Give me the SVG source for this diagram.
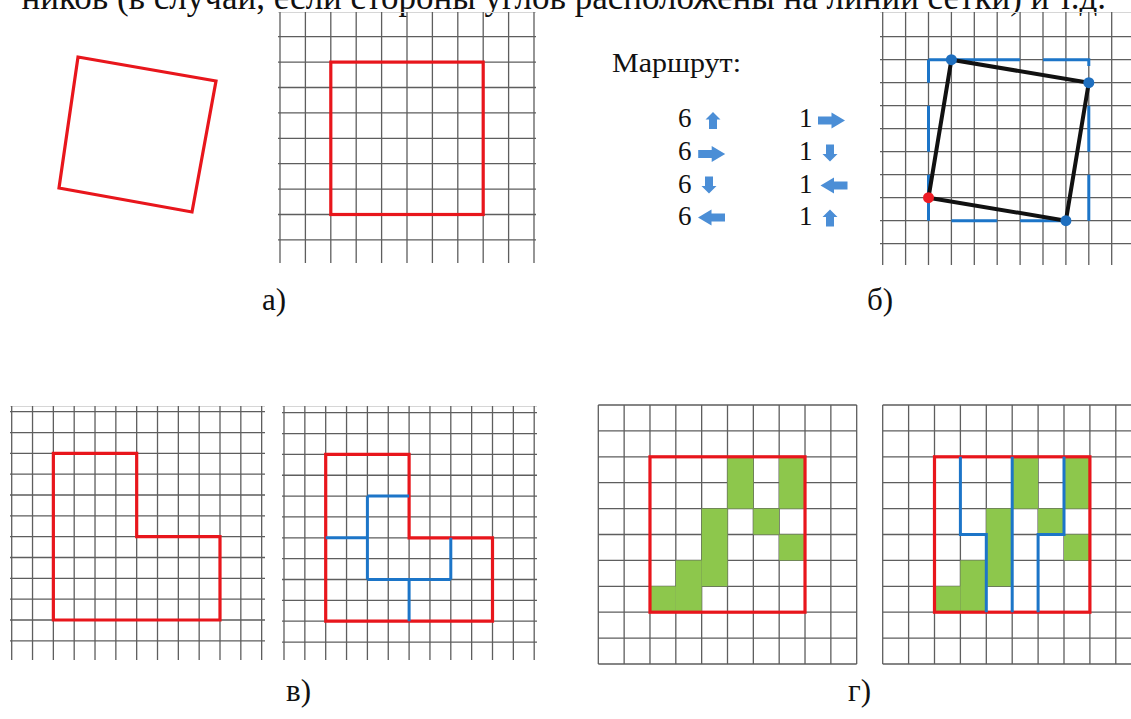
<svg xmlns="http://www.w3.org/2000/svg" xmlns:xlink="http://www.w3.org/1999/xlink" width="1131" height="719" viewBox="0 0 1131 719">
<style>
.grid{fill:none;stroke:#5e5e5e;stroke-width:1.3}
.faint{fill:none;stroke:#d6d6d6;stroke-width:1}
.red{fill:none;stroke:#e8161c;stroke-width:3.2;stroke-linejoin:miter}
.blue{fill:none;stroke:#1c75c8;stroke-width:3}
.green{fill:#8dc74c}
.lbl{font-family:"Liberation Serif","Times New Roman",serif;font-size:31px;fill:#111}
.txt{font-family:"Liberation Serif","Times New Roman",serif;fill:#111}
.arr{fill:#4b8ed6}
</style>
<defs>
<path id="ar" d="M-13.5,-4 H0 V-8 L13.5,0 L0,8 V4 H-13.5 Z"/>
<path id="au" d="M-4,8.5 V-1 H-7.5 L0,-8.5 L7.5,-1 H4 V8.5 Z"/>
</defs>
<rect width="1131" height="719" fill="#fff"/>

<text class="txt" x="1106" y="9" font-size="35" text-anchor="end">ников (в случаи, если стороны углов расположены на линии сетки) и т.д.</text>

<g id="panel-a-tilted">
<path class="red" d="M78 57 L216 81 L192 212 L59 188 Z"/>
</g>

<g id="panel-a-grid">
<path class="faint" d="M278 12.5H536"/>
<path class="grid" d="M280 12V263M305.4 12V263M330.8 12V263M356.2 12V263M381.6 12V263M407 12V263M432.4 12V263M457.8 12V263M483.2 12V263M508.6 12V263M534 12V263
M278 36.7H536M278 62.1H536M278 87.5H536M278 112.9H536M278 138.3H536M278 163.7H536M278 189.1H536M278 214.5H536M278 239.9H536"/>
<rect class="red" x="330.8" y="62.1" width="152.4" height="152.4"/>
</g>
<text id="label-a" class="lbl" x="262" y="310">а)</text>

<g id="panel-b-route">
<text class="txt" x="612" y="72" font-size="28" textLength="129" lengthAdjust="spacingAndGlyphs">Маршрут:</text>
<text class="txt" x="678" y="127" font-size="27">6</text>
<text class="txt" x="678" y="160" font-size="27">6</text>
<text class="txt" x="678" y="192.7" font-size="27">6</text>
<text class="txt" x="678" y="225" font-size="27">6</text>
<text class="txt" x="799" y="127" font-size="27">1</text>
<text class="txt" x="799" y="160" font-size="27">1</text>
<text class="txt" x="799" y="192.7" font-size="27">1</text>
<text class="txt" x="799" y="225" font-size="27">1</text>
<use class="arr" xlink:href="#au" href="#au" transform="translate(713,120.5)"/>
<use class="arr" xlink:href="#ar" href="#ar" transform="translate(711.7,154)"/>
<use class="arr" xlink:href="#au" href="#au" transform="translate(709,185) rotate(180)"/>
<use class="arr" xlink:href="#ar" href="#ar" transform="translate(711.5,217.5) rotate(180)"/>
<use class="arr" xlink:href="#ar" href="#ar" transform="translate(831.5,120.5)"/>
<use class="arr" xlink:href="#au" href="#au" transform="translate(830,153) rotate(180)"/>
<use class="arr" xlink:href="#ar" href="#ar" transform="translate(834,185.5) rotate(180)"/>
<use class="arr" xlink:href="#au" href="#au" transform="translate(830,218)"/>
</g>

<g id="panel-b-grid">
<path class="faint" d="M880 12.5H1131"/>
<path class="grid" d="M882.7 12V265M905.6 12V265M928.5 12V265M951.4 12V265M974.3 12V265M997.2 12V265M1020.1 12V265M1043 12V265M1065.9 12V265M1088.8 12V265M1111.7 12V265
M880 36.7H1131M880 59.7H1131M880 82.7H1131M880 105.7H1131M880 128.7H1131M880 151.7H1131M880 174.7H1131M880 197.7H1131M880 220.7H1131M880 243.7H1131"/>
<path class="blue" d="M928.5 59.7H1020.1M1043 59.7H1088.8V66M1088.8 105.7V151.7M1088.8 174.7V220.7M1065.9 220.7H1020.1M997.2 220.7H951.4M928.5 220.7V174.7M928.5 151.7V105.7M928.5 82.7V59.7"/>
<path d="M951.4 59.7 L1088.8 82.7 L1065.9 220.7 L928.5 197.7 Z" fill="none" stroke="#111" stroke-width="4" stroke-linejoin="round"/>
<circle cx="951.4" cy="59.7" r="5.5" fill="#1f6fbf"/>
<circle cx="1088.8" cy="82.7" r="5.5" fill="#1f6fbf"/>
<circle cx="1065.9" cy="220.7" r="5.5" fill="#1f6fbf"/>
<circle cx="928.5" cy="197.7" r="5.5" fill="#ee1c25"/>
</g>
<text id="label-b" class="lbl" x="867" y="310">б)</text>

<g id="panel-v-left">
<path class="faint" d="M10 406.5H265"/>
<path class="grid" d="M11.7 406V660M32.53 406V660M53.36 406V660M74.19 406V660M95.02 406V660M115.85 406V660M136.68 406V660M157.51 406V660M178.34 406V660M199.17 406V660M220 406V660M240.83 406V660M261.66 406V660
M10 411.7H265M10 432.53H265M10 453.36H265M10 474.19H265M10 495.02H265M10 515.85H265M10 536.68H265M10 557.51H265M10 578.34H265M10 599.17H265M10 620H265M10 640.83H265"/>
<path class="red" d="M53.36 453.36H136.68V536.68H220V620H53.36Z"/>
</g>

<g id="panel-v-right">
<path class="faint" d="M282 406.5H537"/>
<path class="grid" d="M284 406V660M304.85 406V660M325.7 406V660M346.55 406V660M367.4 406V660M388.25 406V660M409.1 406V660M429.95 406V660M450.8 406V660M471.65 406V660M492.5 406V660M513.35 406V660M534.2 406V660
M282 412.7H537M282 433.55H537M282 454.4H537M282 475.25H537M282 496.1H537M282 516.95H537M282 537.8H537M282 558.65H537M282 579.5H537M282 600.35H537M282 621.2H537M282 642.05H537"/>
<path class="red" d="M325.7 454.4H409.1V537.8H492.5V621.2H325.7Z"/>
<path class="blue" d="M367.4 496.1H409.1M367.4 496.1V579.5M325.7 537.8H367.4M367.4 579.5H450.8M450.8 537.8V579.5M409.1 579.5V621.2"/>
</g>
<text id="label-v" class="lbl" x="286" y="701">в)</text>

<g id="panel-g-left">
<path class="grid" d="M598.3 405V664M624.14 405V664M649.98 405V664M675.82 405V664M701.66 405V664M727.5 405V664M753.34 405V664M779.18 405V664M805.02 405V664M830.86 405V664M856.7 405V664
M598.3 405H856.7M598.3 430.9H856.7M598.3 456.8H856.7M598.3 482.7H856.7M598.3 508.6H856.7M598.3 534.5H856.7M598.3 560.4H856.7M598.3 586.3H856.7M598.3 612.2H856.7M598.3 638.1H856.7M598.3 664H856.7"/>
<rect class="green" x="727.5" y="456.8" width="25.84" height="51.8"/>
<rect class="green" x="779.18" y="456.8" width="25.84" height="51.8"/>
<rect class="green" x="701.66" y="508.6" width="25.84" height="77.7"/>
<rect class="green" x="753.34" y="508.6" width="25.84" height="25.9"/>
<rect class="green" x="779.18" y="534.5" width="25.84" height="25.9"/>
<rect class="green" x="675.82" y="560.4" width="25.84" height="51.8"/>
<rect class="green" x="649.98" y="586.3" width="25.84" height="25.9"/>
<rect class="red" x="649.98" y="456.8" width="155.04" height="155.4"/>
</g>

<g id="panel-g-right">
<path class="grid" d="M882.7 405V664M908.6 405V664M934.5 405V664M960.4 405V664M986.3 405V664M1012.2 405V664M1038.1 405V664M1064 405V664M1089.9 405V664M1115.8 405V664
M882.7 405H1131M882.7 430.9H1131M882.7 456.8H1131M882.7 482.7H1131M882.7 508.6H1131M882.7 534.5H1131M882.7 560.4H1131M882.7 586.3H1131M882.7 612.2H1131M882.7 638.1H1131M882.7 664H1131"/>
<rect class="green" x="1012.2" y="456.8" width="25.9" height="51.8"/>
<rect class="green" x="1064" y="456.8" width="25.9" height="51.8"/>
<rect class="green" x="986.3" y="508.6" width="25.9" height="77.7"/>
<rect class="green" x="1038.1" y="508.6" width="25.9" height="25.9"/>
<rect class="green" x="1064" y="534.5" width="25.9" height="25.9"/>
<rect class="green" x="960.4" y="560.4" width="25.9" height="51.8"/>
<rect class="green" x="934.5" y="586.3" width="25.9" height="25.9"/>
<rect class="red" x="934.5" y="456.8" width="155.4" height="155.4"/>
<path class="blue" d="M960.4 456.8V534.5H986.3V612.2M1012.2 456.8V612.2M1064 456.8V534.5H1038.1V612.2"/>
</g>
<text id="label-g" class="lbl" x="848" y="701">г)</text>
</svg>
